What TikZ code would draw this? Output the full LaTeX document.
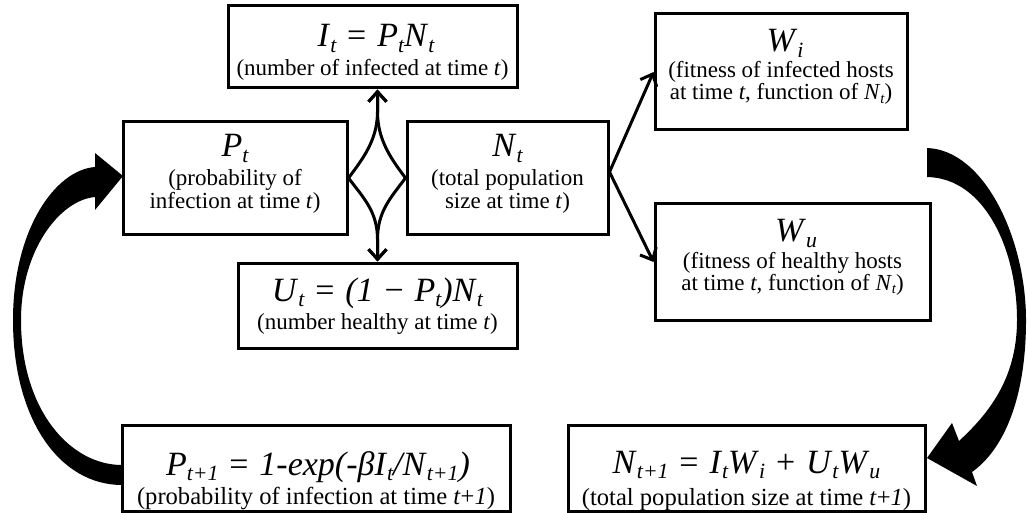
\documentclass[tikz,border=0pt]{standalone}
\usepackage{fontspec}
\setmainfont{Liberation Serif}
\usetikzlibrary{arrows.meta,calc}
\newcommand{\fsz}{\fontsize{17}{18}\selectfont}
\newcommand{\csz}{\fontsize{11.5}{12}\selectfont}
\newcommand{\bsz}{\fontsize{12.3}{13}\selectfont}
\newcommand{\iv}[1]{\textit{#1}}
\newcommand{\sbt}[1]{\raisebox{-0.17em}{\scalebox{0.64}{\itshape #1}}}
\newcommand{\op}[1]{\hspace{0.32em}#1\hspace{0.32em}}
\tikzset{
  box/.style={draw, line width=1.5pt, inner sep=0pt},
  fml/.style={anchor=base, inner sep=0pt, font=\fsz},
  captxt/.style={anchor=base, inner sep=0pt, font=\csz},
  bcaptxt/.style={anchor=base, inner sep=0pt, font=\bsz},
  conn/.style={line width=1.5pt, -{Straight Barb[length=5pt,width=9pt]}},
  bigarrow/.style={fill=black}
}
\begin{document}
\begin{tikzpicture}[x=0.5pt, y=-0.5pt]
\useasboundingbox (0,0) rectangle (1027,513);
% boxes
\node[box, minimum width=112pt,   minimum height=56.5pt] (Pt)  at (235,178) {};
\node[box, minimum width=144.5pt, minimum height=41pt]   (It)  at (372.5,47) {};
\node[box, minimum width=100.5pt, minimum height=56.5pt] (Nt)  at (507.5,178) {};
\node[box, minimum width=139.5pt, minimum height=42.5pt] (Ut)  at (377.5,305.5) {};
\node[box, minimum width=126pt,   minimum height=58pt]   (Wi)  at (781,72) {};
\node[box, minimum width=137.5pt, minimum height=58pt]   (Wu)  at (792.5,262) {};
\node[box, minimum width=194pt,   minimum height=43pt]   (Pt1) at (316,468) {};
\node[box, minimum width=178.5pt, minimum height=43pt]   (Nt1) at (746.5,468) {};
% texts
\node[fml] (Ptf) at (235,157) {\iv{P}\sbt{t}};
\node[captxt] (Ptc1) at (235,186) {(probability of};
\node[captxt] (Ptc2) at (235,209) {infection at time \iv{t})};
\node[fml] (Itf) at (376,47) {\iv{I}\sbt{t}\op{=}\iv{P}\sbt{t}\iv{N}\sbt{t}};
\node[captxt] (Itc) at (372.5,76) {(number of infected at time \iv{t})};
\node[fml] (Ntf) at (507.5,157) {\iv{N}\sbt{t}};
\node[captxt] (Ntc1) at (507.5,186) {(total population};
\node[captxt] (Ntc2) at (507.5,209) {size at time \iv{t})};
\node[fml] (Utf) at (377.5,301) {\iv{U}\sbt{t}\op{=}\iv{(1}\op{−}\iv{P}\sbt{t}\iv{)N}\sbt{t}};
\node[captxt] (Utc) at (377.5,329) {(number healthy at time \iv{t})};
\node[fml] (Wif) at (785,52) {\iv{W}\sbt{i}};
\node[captxt] (Wic1) at (781,78) {(fitness of infected hosts};
\node[captxt] (Wic2) at (781,100) {at time \iv{t}, function of \iv{N}\sbt{t})};
\node[fml] (Wuf) at (796,242) {\iv{W}\sbt{u}};
\node[captxt] (Wuc1) at (792.5,268) {(fitness of healthy hosts};
\node[captxt] (Wuc2) at (792.5,290) {at time \iv{t}, function of \iv{N}\sbt{t})};
\node[fml] (Pt1f) at (318,475) {\iv{P}\sbt{t+1}\op{=}\iv{1-exp(-β}\iv{I}\sbt{t}\iv{/N}\sbt{t+1}\iv{)}};
\node[bcaptxt] (Pt1c) at (316,504) {(probability of infection at time \iv{t}+\iv{1})};
\node[fml] (Nt1f) at (746.5,473) {\iv{N}\sbt{t+1}\op{=}\iv{I}\sbt{t}\iv{W}\sbt{i}\op{+}\iv{U}\sbt{t}\iv{W}\sbt{u}};
\node[bcaptxt] (Nt1c) at (746.5,505) {(total population size at time \iv{t}+\iv{1})};
% central connectors
\coordinate (mt) at (Ut.north |- It.south);
\coordinate (mtj) at ($(mt)+(0,22)$);
\coordinate (mb) at (Ut.north);
\coordinate (mbj) at ($(mb)+(0,-22)$);
\draw[conn] (Pt.east) .. controls +(15,-20) and ($(mtj)+(0,28)$) .. (mtj) -- (mt);
\draw[conn] (Nt.west) .. controls +(-15,-20) and ($(mtj)+(0,28)$) .. (mtj) -- (mt);
\draw[conn] (Pt.east) .. controls +(15,20) and ($(mbj)+(0,-28)$) .. (mbj) -- (mb);
\draw[conn] (Nt.west) .. controls +(-15,20) and ($(mbj)+(0,-28)$) .. (mbj) -- (mb);
\coordinate (ns) at ($(Nt.east)+(0,-6)$);
\draw[conn] (ns) -- (Wi.west);
\draw[conn] (ns) -- (Wu.west);
% big curved arrows
\fill[bigarrow] (122,485) .. controls (60,485) and (13,420) .. (13,320)
  .. controls (13,230) and (55,170) .. (95,167) -- (95,153) -- (123,176) -- (95,210) -- (95,197)
  .. controls (60,200) and (21,250) .. (21,320) .. controls (21,410) and (70,465) .. (122,465) -- cycle;
\fill[bigarrow] (927,148) .. controls (985,150) and (1026,240) .. (1026,320)
  .. controls (1026,400) and (1003,450) .. (972,472) -- (977,486) -- (927,458) -- (952,423) -- (959,441)
  .. controls (987,415) and (1017,380) .. (1017,320) .. controls (1017,250) and (985,178) .. (927,177) -- cycle;
\end{tikzpicture}
\end{document}
